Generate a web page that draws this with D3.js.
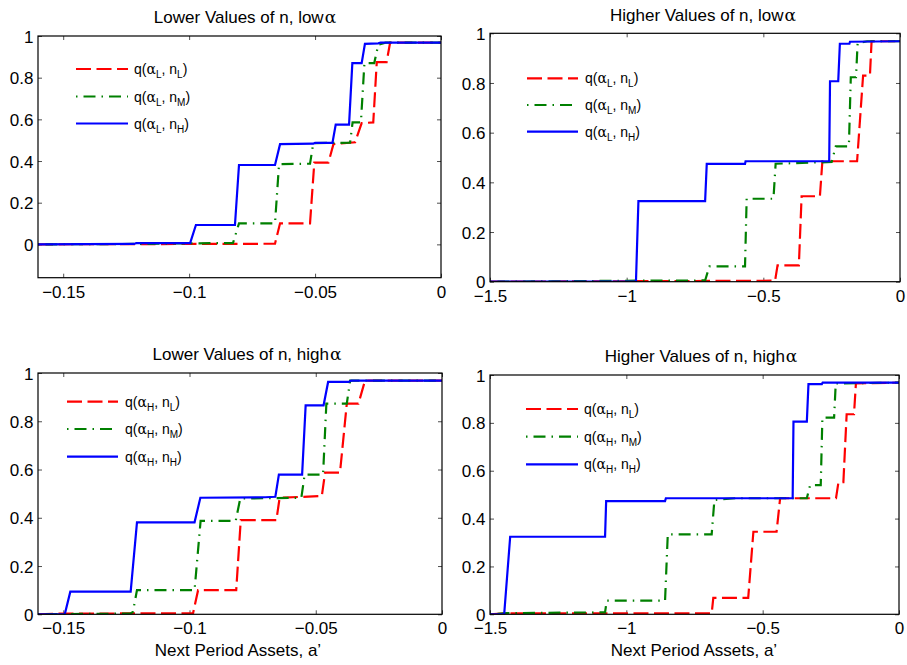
<!DOCTYPE html>
<html><head><meta charset="utf-8">
<script src="https://cdn.jsdelivr.net/npm/d3@7"></script>
<style>
body{margin:0;background:#fff}
svg{display:block}
text{font-family:"Liberation Sans",Arial,Helvetica,sans-serif;fill:#000}
</style>
</head><body>
<svg id="chart" width="907" height="665"></svg>
<script>
// ---------------- DATA ----------------
// Panel 1: Lower values of n, low alpha  ([a', q] vertices)
const lowerLow_nL = [[-0.16,0],[-0.0659,0.003],[-0.0639,0.101],[-0.052,0.101],[-0.0503,0.392],[-0.0447,0.392],[-0.0427,0.481],[-0.0341,0.49],[-0.0315,0.582],[-0.0269,0.585],[-0.0255,0.875],[-0.0216,0.875],[-0.0202,0.968],[0,0.968]];
const lowerLow_nM = [[-0.16,0],[-0.12,0.002],[-0.1,0.005],[-0.0826,0.006],[-0.0802,0.101],[-0.0659,0.101],[-0.0643,0.385],[-0.052,0.387],[-0.0507,0.486],[-0.0361,0.488],[-0.0351,0.585],[-0.0318,0.585],[-0.0304,0.870],[-0.0265,0.870],[-0.0249,0.958],[-0.022,0.968],[0,0.968]];
const lowerLow_nH = [[-0.16,0],[-0.122,0.002],[-0.121,0.006],[-0.0996,0.006],[-0.0973,0.093],[-0.0818,0.093],[-0.0802,0.381],[-0.0659,0.381],[-0.0639,0.481],[-0.0507,0.483],[-0.05,0.487],[-0.0431,0.487],[-0.0418,0.575],[-0.0365,0.575],[-0.0352,0.870],[-0.0315,0.870],[-0.0302,0.962],[-0.0249,0.965],[-0.024,0.968],[0,0.968]];
// Panel 2: Higher values of n, low alpha
const higherLow_nL = [[-1.5,0],[-0.96,0.002],[-0.457,0.004],[-0.448,0.066],[-0.37,0.066],[-0.36,0.344],[-0.293,0.344],[-0.284,0.485],[-0.157,0.485],[-0.135,0.83],[-0.11,0.83],[-0.104,0.968],[0,0.968]];
const higherLow_nM = [[-1.5,0],[-0.96,0.004],[-0.713,0.005],[-0.697,0.062],[-0.567,0.062],[-0.561,0.334],[-0.463,0.334],[-0.455,0.475],[-0.25,0.482],[-0.235,0.545],[-0.187,0.545],[-0.180,0.823],[-0.161,0.823],[-0.155,0.961],[-0.12,0.968],[0,0.968]];
const higherLow_nH = [[-1.5,0],[-0.966,0],[-0.957,0.324],[-0.713,0.324],[-0.707,0.474],[-0.567,0.474],[-0.565,0.485],[-0.259,0.485],[-0.256,0.807],[-0.226,0.807],[-0.22,0.958],[-0.185,0.958],[-0.183,0.966],[0,0.968]];
// Panel 3: Lower values of n, high alpha
const lowerHigh_nL = [[-0.16,0],[-0.15,0.003],[-0.0986,0.004],[-0.0966,0.10],[-0.0815,0.10],[-0.0797,0.39],[-0.0656,0.39],[-0.0643,0.483],[-0.0476,0.49],[-0.0463,0.587],[-0.0404,0.587],[-0.0377,0.873],[-0.0331,0.873],[-0.0305,0.968],[0,0.968]];
const lowerHigh_nM = [[-0.16,0],[-0.1235,0.003],[-0.1224,0.01],[-0.1208,0.10],[-0.098,0.10],[-0.0956,0.387],[-0.0817,0.387],[-0.0799,0.48],[-0.0557,0.483],[-0.0544,0.579],[-0.0471,0.579],[-0.0458,0.873],[-0.0377,0.873],[-0.0364,0.968],[0,0.968]];
const lowerHigh_nH = [[-0.16,0],[-0.1494,0],[-0.1472,0.094],[-0.1233,0.094],[-0.1208,0.381],[-0.098,0.381],[-0.0957,0.483],[-0.07,0.485],[-0.066,0.487],[-0.0646,0.579],[-0.0554,0.579],[-0.054,0.866],[-0.0469,0.866],[-0.0451,0.963],[-0.037,0.963],[-0.036,0.968],[0,0.968]];
// Panel 4: Higher values of n, high alpha
const higherHigh_nL = [[-1.5,0],[-1.44,0.004],[-0.687,0.004],[-0.681,0.069],[-0.553,0.069],[-0.534,0.345],[-0.449,0.345],[-0.436,0.485],[-0.231,0.485],[-0.222,0.552],[-0.204,0.552],[-0.192,0.836],[-0.165,0.836],[-0.158,0.965],[0,0.968]];
const higherHigh_nM = [[-1.5,0],[-1.44,0.005],[-1.078,0.008],[-1.072,0.057],[-0.858,0.057],[-0.848,0.334],[-0.687,0.334],[-0.677,0.478],[-0.6,0.485],[-0.338,0.485],[-0.326,0.54],[-0.287,0.54],[-0.281,0.822],[-0.238,0.822],[-0.232,0.965],[0,0.968]];
const higherHigh_nH = [[-1.5,0],[-1.448,0],[-1.426,0.324],[-1.078,0.324],[-1.074,0.473],[-0.858,0.473],[-0.855,0.485],[-0.39,0.485],[-0.387,0.805],[-0.338,0.805],[-0.332,0.962],[-0.283,0.962],[-0.28,0.968],[0,0.968]];

const titles = ["Lower Values of n, low", "Higher Values of n, low", "Lower Values of n, high", "Higher Values of n, high"];
const titleGreek = "α";
const xTicksLower = [-0.15, -0.1, -0.05, 0];
const xTickLabelsLower = ["−0.15", "−0.1", "−0.05", "0"];
const xTicksHigher = [-1.5, -1, -0.5, 0];
const xTickLabelsHigher = ["−1.5", "−1", "−0.5", "0"];
const yTicks = [0, 0.2, 0.4, 0.6, 0.8, 1];
const yTickLabels = ["0", "0.2", "0.4", "0.6", "0.8", "1"];
const legendAlphaSub = ["L", "L", "H", "H"];
const legendNSub = ["L", "M", "H"];
const xAxisLabel = "Next Period Assets, a’";

// ---------------- LAYOUT / STYLE ----------------
const svg = d3.select("#chart");
const colors = ["#ff0000", "#008000", "#0000ff"];
const dashes = ["15,5.5", "1.5,6,12,6", null];

const panels = [
  {series:[lowerLow_nL, lowerLow_nM, lowerLow_nH], xd:[-0.16,0], yd:[-0.16,1], x0:38, x1:441, y0:36, y1:277.7,
   xt:xTicksLower, xl:xTickLabelsLower, tx:245, ty:23, leg:{x0:76, x1:128, x2:134, ys:[69,96.5,123.5]}, xlabel:false},
  {series:[higherLow_nL, higherLow_nM, higherLow_nH], xd:[-1.5,0], yd:[0,1], x0:490, x1:900, y0:33.3, y1:281.7,
   xt:xTicksHigher, xl:xTickLabelsHigher, tx:703, ty:20.5, leg:{x0:527, x1:578, x2:585, ys:[78.3,105,131.7]}, xlabel:false},
  {series:[lowerHigh_nL, lowerHigh_nM, lowerHigh_nH], xd:[-0.16,0], yd:[0,1], x0:38, x1:442, y0:373, y1:614.3,
   xt:xTicksLower, xl:xTickLabelsLower, tx:247, ty:360, leg:{x0:67, x1:118, x2:125, ys:[401.7,429,456.7]}, xlabel:true, lx:238},
  {series:[higherHigh_nL, higherHigh_nM, higherHigh_nH], xd:[-1.5,0], yd:[0,1], x0:490, x1:899, y0:375, y1:614.3,
   xt:xTicksHigher, xl:xTickLabelsHigher, tx:701, ty:361.5, leg:{x0:526, x1:578, x2:584, ys:[409,436.7,464.3]}, xlabel:true, lx:694}
];

panels.forEach((p, pi) => {
  const x = d3.scaleLinear().domain(p.xd).range([p.x0, p.x1]);
  const y = d3.scaleLinear().domain(p.yd).range([p.y1, p.y0]);
  const g = svg.append("g");
  const clipId = "clip" + pi;
  svg.append("clipPath").attr("id", clipId).append("rect")
    .attr("x", p.x0).attr("y", p.y0).attr("width", p.x1 - p.x0).attr("height", p.y1 - p.y0);

  // axes (ticks inward, mirrored)
  const tickFmtX = (d, i) => p.xl[i];
  const tickFmtY = (d, i) => yTickLabels[i];
  const ax = g.append("g").attr("transform", `translate(0,${p.y1})`)
    .call(d3.axisBottom(x).tickValues(p.xt).tickFormat(tickFmtX).tickSizeInner(-4).tickSizeOuter(0).tickPadding(8));
  const axT = g.append("g").attr("transform", `translate(0,${p.y0})`)
    .call(d3.axisTop(x).tickValues(p.xt).tickFormat("").tickSizeInner(-4).tickSizeOuter(0));
  const ay = g.append("g").attr("transform", `translate(${p.x0},0)`)
    .call(d3.axisLeft(y).tickValues(yTicks).tickFormat(tickFmtY).tickSizeInner(-4).tickSizeOuter(0).tickPadding(4.5));
  const ayR = g.append("g").attr("transform", `translate(${p.x1},0)`)
    .call(d3.axisRight(y).tickValues(yTicks).tickFormat("").tickSizeInner(-4).tickSizeOuter(0));
  [ax, axT, ay, ayR].forEach(a => {
    a.select(".domain").remove();
    a.selectAll(".tick line").attr("stroke", "#222").attr("stroke-width", 0.8);
    a.selectAll("text").style("font-family", '"Liberation Sans",Arial,sans-serif').style("font-size", "17px").attr("fill", "#000");
  });
  ay.selectAll("text").attr("dy", "0.36em");

  // series
  const line = d3.line().x(d => x(d[0])).y(d => y(d[1]));
  p.series.forEach((s, si) => {
    const path = g.append("path").datum(s).attr("d", line)
      .attr("clip-path", `url(#${clipId})`)
      .attr("fill", "none").attr("stroke", colors[si]).attr("stroke-width", 2.2)
      .attr("stroke-linejoin", "miter");
    if (dashes[si]) path.attr("stroke-dasharray", dashes[si]);
  });

  // box
  g.append("rect").attr("x", p.x0).attr("y", p.y0).attr("width", p.x1 - p.x0).attr("height", p.y1 - p.y0)
    .attr("fill", "none").attr("stroke", "#000").attr("stroke-width", 1.2);

  // title
  const t = g.append("text").attr("x", p.tx).attr("y", p.ty).attr("text-anchor", "middle")
    .style("font-size", "17px");
  t.append("tspan").text(titles[pi]);
  t.append("tspan").attr("dx", 1).style("font-family", '"DejaVu Serif","Liberation Serif",serif').text(titleGreek);

  // legend
  legendNSub.forEach((nsub, li) => {
    const ly = p.leg.ys[li];
    const l = g.append("line").attr("x1", p.leg.x0).attr("x2", p.leg.x1).attr("y1", ly).attr("y2", ly)
      .attr("stroke", colors[li]).attr("stroke-width", 2.2);
    if (dashes[li]) l.attr("stroke-dasharray", dashes[li]);
    const lt = g.append("text").attr("x", p.leg.x2).attr("y", ly + 5).style("font-size", "14px");
    lt.append("tspan").text("q(");
    lt.append("tspan").style("font-family", '"DejaVu Serif","Liberation Serif",serif').text("α");
    lt.append("tspan").attr("dy", 4).style("font-size", "10px").text(legendAlphaSub[pi]);
    lt.append("tspan").attr("dy", -4).text(", n");
    lt.append("tspan").attr("dy", 4).style("font-size", "10px").text(nsub);
    lt.append("tspan").attr("dy", -4).text(")");
  });

  if (p.xlabel) {
    g.append("text").attr("x", p.lx).attr("y", 656).attr("text-anchor", "middle")
      .style("font-size", "17px").text(xAxisLabel);
  }
});
</script>
</body></html>
